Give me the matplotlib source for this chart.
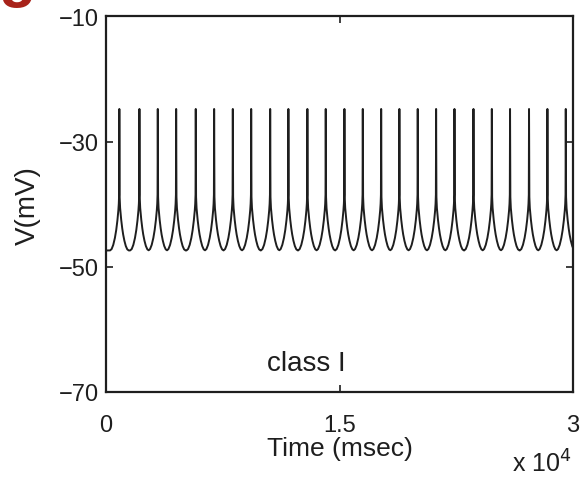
import numpy as np
import matplotlib
matplotlib.use("Agg")
import matplotlib.pyplot as plt

plt.rcParams['font.family'] = ['Liberation Sans', 'DejaVu Sans']

# Spike times of the class I neuron (ms)
spike_times = [850, 2140, 3320, 4500, 5760, 6940, 8140, 9320, 10540, 11710,
               12930, 14110, 15310, 16490, 17670, 18840, 20020, 21200, 22380,
               23600, 24780, 25950, 27170, 28350, 29530]

# One action-potential cycle: offset from the spike (ms) and membrane potential (mV)
cycle_offsets = [-600, -500, -400, -300, -220, -150, -90, -40, -15, 0,
                 15, 40, 90, 150, 220, 300, 400, 500, 600]
cycle_voltage = [-47.4, -47.2, -46.6, -45.6, -44.5, -43.2, -41.8, -40.3, -38.5, -24.8,
                 -38.5, -40.3, -41.8, -43.2, -44.5, -45.6, -46.6, -47.2, -47.4]

x_ticks = [0, 15000, 30000]
x_ticklabels = ['0', '1.5', '3']
y_ticks = [-70, -50, -30, -10]

# Build the membrane trace from the nearest spike's cycle shape
t = np.linspace(0, 30000, 6001)
st = np.asarray(spike_times)
nearest = st[np.argmin(np.abs(t[:, None] - st[None, :]), axis=1)]
v = np.interp(t - nearest, cycle_offsets, cycle_voltage)

ink = '#1e1e1e'
fig = plt.figure(figsize=(5.83, 4.81), dpi=100)
ax = fig.add_axes([0.182, 0.183, 0.801, 0.781])
ax.plot(t, v, color=ink, lw=1.4)

ax.set_xlim(0, 30000)
ax.set_ylim(-70, -10)
ax.set_xticks(x_ticks)
ax.set_xticklabels(x_ticklabels)
ax.set_yticks(y_ticks)
ax.tick_params(direction='in', length=5, width=1.2, top=True, right=True,
               labelsize=17, colors=ink)
ax.tick_params(axis='x', pad=16)
ax.tick_params(axis='y', pad=5)
for s in ax.spines.values():
    s.set_linewidth(1.6)
    s.set_color(ink)

ax.set_xlabel('Time (msec)', fontsize=19, color=ink, labelpad=0)
ax.set_ylabel('V(mV)', fontsize=20, color=ink, labelpad=13)
ax.text(12850, -65.3, 'class I', fontsize=20, ha='center', va='center', color=ink)
fig.text(0.981, 0.0166, r'x 10$^4$', fontsize=18, ha='right', va='baseline', color=ink)

# Panel letter
fig.text(-0.003, 1.010, 'g', fontsize=44, fontweight='bold', color='#a8231a',
         ha='left', va='baseline')

fig.savefig('out.png', dpi=100)
